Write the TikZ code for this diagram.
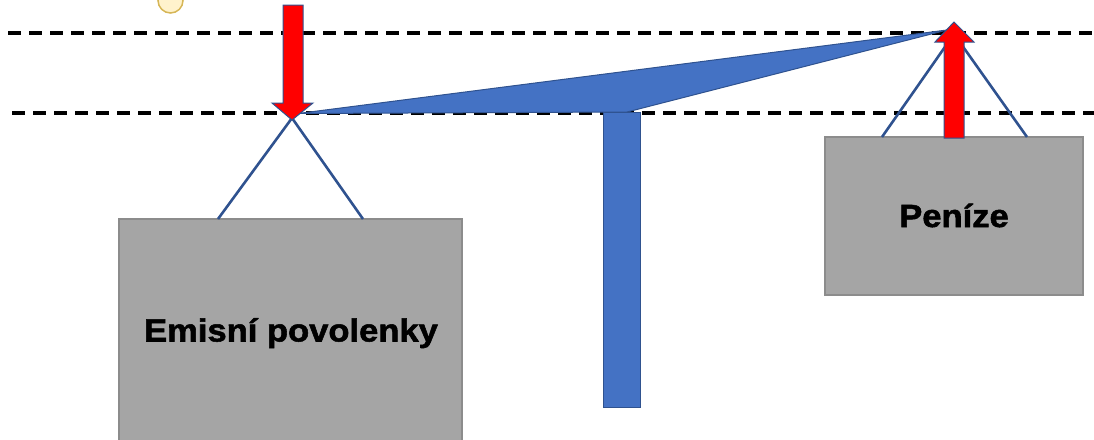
\documentclass[tikz,border=0pt]{standalone}
\usepackage{fontspec}
\usepackage{graphicx}
\setmainfont{Liberation Sans}
\newfontfamily\heavyfont{Liberation Sans}[BoldFeatures={FakeBold=1.6}]
\definecolor{beamblue}{HTML}{4472C4}
\definecolor{edgeblue}{HTML}{2F528F}
\definecolor{boxgray}{HTML}{A5A5A5}
\definecolor{boxedge}{HTML}{8C8C8C}
\definecolor{sunfill}{HTML}{FFF2CC}
\definecolor{sunedge}{HTML}{D6B656}
\tikzset{
  dashline/.style={black, line width=3.2pt, dash pattern=on 13pt off 8pt},
  weightbox/.style={draw=boxedge, line width=1.2pt, fill=boxgray, inner sep=0pt, outer sep=0pt},
  labeltext/.style={font=\fontsize{32}{36}\selectfont\heavyfont\bfseries, inner sep=0pt, anchor=base},
  hanger/.style={draw=edgeblue, line width=2.6pt},
  beamshape/.style={fill=beamblue, draw=edgeblue, line width=1pt},
  forcearrow/.style={fill=red, draw=edgeblue, line width=1pt},
}
\begin{document}
\begin{tikzpicture}[x=1pt, y=-1pt]
\useasboundingbox (0,0) rectangle (1094,439);
% dashed reference lines
\coordinate (d1a) at (8,33);
\coordinate (d1b) at (1094,33);
\coordinate (d2a) at (12,113);
\coordinate (d2b) at (1094,113);
\draw[dashline] (d1a) -- (d1b);
\draw[dashline] (d2a) -- (d2b);
% small circle
\node[circle, fill=sunfill, draw=sunedge, line width=1.5pt, minimum size=25pt, inner sep=0pt] (sun) at (170.5,0.5) {};
% boxes
\node[weightbox, minimum width=343pt, minimum height=222pt, anchor=north west] (left) at (119,219) {};
\node[weightbox, minimum width=258pt, minimum height=158pt, anchor=north west] (right) at (825,137) {};
\node[labeltext] (lefttext) at (291,341.5) {\scalebox{1.08}[1]{Emisní povolenky}};
\node[labeltext] (righttext) at (954,227) {\scalebox{1.08}[1]{Peníze}};
% hangers
\coordinate (lapex) at (292,118);
\coordinate (lbl) at (218,219);
\coordinate (lbr) at (363,219);
\coordinate (rapex) at (954,34);
\coordinate (rbl) at (882,137);
\coordinate (rbr) at (1027,137);
\draw[hanger] (lbl) -- (lapex) -- (lbr);
\draw[hanger] (rbl) -- (rapex) -- (rbr);
% post
\node[beamshape, minimum width=37pt, minimum height=295pt, anchor=north west, inner sep=0pt] (post) at (603,112) {};
% beam
\coordinate (bA) at (298,113.5);
\coordinate (bB) at (947,30);
\coordinate (bC) at (627,112);
\draw[beamshape, line join=round] (bA) -- (bB) -- (bC) -- cycle;
% red arrows
\draw[forcearrow] (283,5) -- (303,5) -- (303,103) -- (313,103) -- (292,120) -- (272,103) -- (283,103) -- cycle;
\draw[forcearrow] (944,138) -- (964,138) -- (964,42) -- (974,42) -- (954,22) -- (935,42) -- (944,42) -- cycle;
\end{tikzpicture}
\end{document}
